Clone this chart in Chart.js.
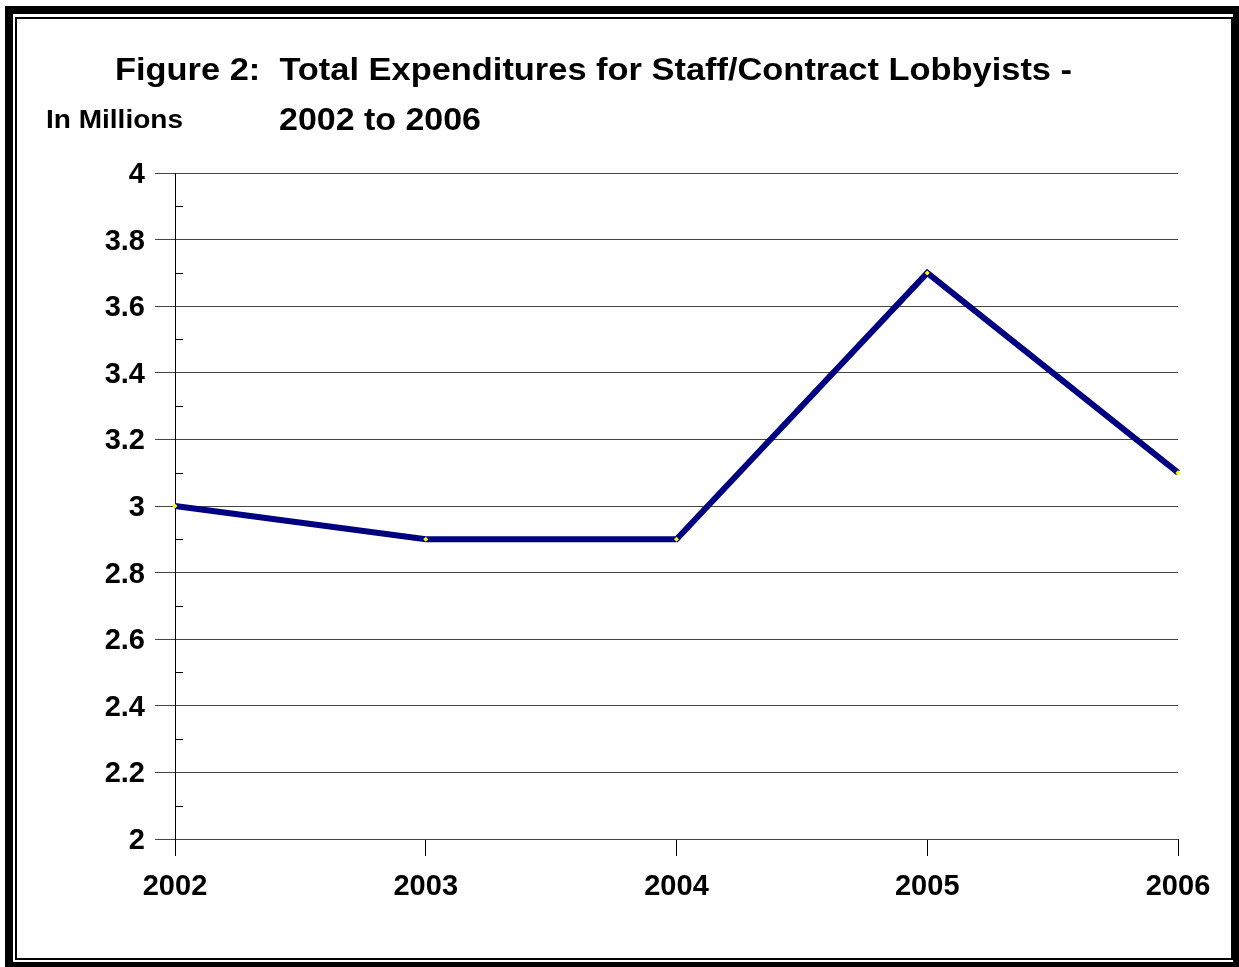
<!DOCTYPE html>
<html>
<head>
<meta charset="utf-8">
<script src="https://cdn.jsdelivr.net/npm/chart.js@4.4.1/dist/chart.umd.min.js"></script>
<style>
  html, body { margin: 0; padding: 0; background: #fff; }
  #wrap { position: relative; width: 1239px; height: 967px; overflow: hidden; }
  #c { position: absolute; left: 0; top: 0; }
  .outer { position: absolute; left: 5px; top: 6px; right: 0px; bottom: 0px; border: 8px solid #000; border-right-width: 6px; border-bottom-width: 5px; box-sizing: border-box; }
  .inner { position: absolute; left: 15px; top: 17px; width: 1218px; height: 943px; border: 2px solid #000; box-sizing: border-box; }
</style>
</head>
<body>
<div id="wrap">
  <canvas id="c" width="1239" height="967"></canvas>
  <div class="outer"></div>
  <div class="inner"></div>
</div>
<script>
const categories = ["2002", "2003", "2004", "2005", "2006"];
const expenditures = [3.0, 2.9, 2.9, 3.7, 3.1];
const titleLine1 = "Figure 2:  Total Expenditures for Staff/Contract Lobbyists -";
const titleLine2 = "2002 to 2006";
const unitLabel = "In Millions";
const yMin = 2, yMax = 4, yStep = 0.2, yMinorStep = 0.1;

const FONT = "'Liberation Sans', Arial, sans-serif";

const textPlugin = {
  id: 'texts',
  afterDraw(chart) {
    const ctx = chart.ctx;
    function stretched(text, x, y, size, width) {
      ctx.save();
      ctx.font = "bold " + size + "px " + FONT;
      ctx.fillStyle = "#000";
      ctx.textBaseline = "alphabetic";
      const w = ctx.measureText(text).width;
      const sx = width / w;
      ctx.translate(x, y);
      ctx.scale(sx, 1);
      ctx.fillText(text, 0, 0);
      ctx.restore();
    }
    stretched(titleLine1, 115, 80, 31, 957);
    stretched(titleLine2, 279, 130, 31, 202);
    stretched(unitLabel, 46, 128, 25, 137);

    // minor ticks on inside of the y axis
    const y = chart.scales.y;
    const x0 = chart.chartArea.left;
    ctx.save();
    ctx.strokeStyle = "#000";
    ctx.lineWidth = 1;
    for (let v = yMin + yMinorStep; v < yMax; v += yStep) {
      const py = Math.round(y.getPixelForValue(v)) + 0.5;
      ctx.beginPath();
      ctx.moveTo(x0, py);
      ctx.lineTo(x0 + 8, py);
      ctx.stroke();
    }
    ctx.restore();
  }
};

new Chart(document.getElementById('c'), {
  type: 'line',
  data: {
    labels: categories,
    datasets: [{
      data: expenditures,
      borderColor: '#000080',
      borderWidth: 6,
      pointRadius: 2.5,
      pointBackgroundColor: '#ffff00',
      pointBorderColor: '#ffff00',
      pointBorderWidth: 0,
      pointStyle: 'rectRot',
      tension: 0,
      clip: false
    }]
  },
  options: {
    responsive: false,
    animation: false,
    devicePixelRatio: 1,
    layout: { padding: { left: 0, right: 61, top: 173, bottom: 0 } },
    plugins: { legend: { display: false }, tooltip: { enabled: false }, title: { display: false } },
    scales: {
      x: {
        type: 'category',
        offset: false,
        grid: { drawOnChartArea: false, drawTicks: true, tickLength: 17, color: '#000', lineWidth: 1 },
        border: { display: false },
        ticks: { color: '#000', font: { family: FONT, size: 29, weight: 'bold' }, padding: 14, maxRotation: 0, autoSkip: false },
        afterFit(scale) { scale.height = 128; }
      },
      y: {
        min: yMin, max: yMax,
        grid: { color: '#444', lineWidth: 1, tickLength: 20, drawTicks: true },
        border: { display: true, color: '#000', width: 1 },
        ticks: {
          stepSize: yStep, color: '#000', padding: 10, labelOffset: 2,
          font: { family: FONT, size: 29, weight: 'bold' },
          callback: (v) => Math.round(v * 10) / 10
        },
        afterFit(scale) { scale.width = 175; }
      }
    }
  },
  plugins: [textPlugin]
});
</script>
</body>
</html>
